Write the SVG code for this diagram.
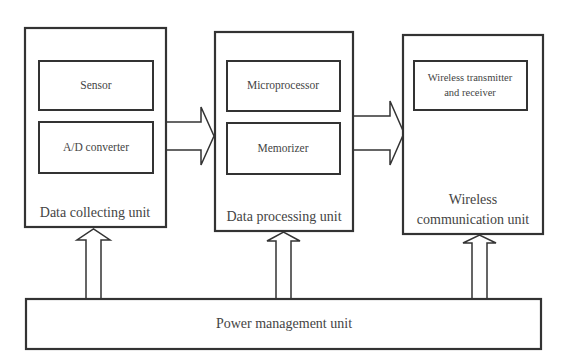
<svg xmlns="http://www.w3.org/2000/svg" width="587" height="351" viewBox="0 0 587 351">
<style>
.outer{fill:#fff;stroke:#333;stroke-width:2.2}
.inner{fill:#fff;stroke:#333;stroke-width:2}
.arr{fill:#fff;stroke:#333;stroke-width:1.5;stroke-linejoin:miter}
text{font-family:"Liberation Serif","DejaVu Serif","Times New Roman",serif;fill:#444;text-anchor:middle}
.s{font-size:11.5px}
.l{font-size:14px}
</style>
<rect width="587" height="351" fill="#fff"/>
<g id="connectors">
<path class="arr" d="M166,122 H201 V107 L214,136 L201,165 V150 H166"/>
<path class="arr" d="M353,116 H390 V101 L404,133 L390,165 V150 H353"/>
<path class="arr" d="M86,299 V240 H77 L93.5,229 L110,240 H101 V299"/>
<path class="arr" d="M276,299 V241 H267 L283.5,232 L300,241 H291 V299"/>
<path class="arr" d="M472,299 V243 H463 L479.5,235 L496,243 H487 V299"/>
</g>
<g id="data-collecting-unit">
<rect class="outer" x="25" y="28" width="141" height="199"/>
<text class="l" x="95" y="217">Data collecting unit</text>
</g>
<g id="sensor">
<rect class="inner" x="39" y="61" width="114" height="49"/>
<text class="s" x="96" y="89">Sensor</text>
</g>
<g id="ad-converter">
<rect class="inner" x="39" y="122" width="114" height="51"/>
<text class="s" x="96" y="151">A/D converter</text>
</g>
<g id="data-processing-unit">
<rect class="outer" x="215" y="32" width="138" height="199"/>
<text class="l" x="284" y="221">Data processing unit</text>
</g>
<g id="microprocessor">
<rect class="inner" x="227" y="61" width="113" height="50"/>
<text class="s" x="283" y="89">Microprocessor</text>
</g>
<g id="memorizer">
<rect class="inner" x="227" y="123" width="113" height="51"/>
<text class="s" x="283" y="152">Memorizer</text>
</g>
<g id="wireless-communication-unit">
<rect class="outer" x="403" y="35" width="140" height="199"/>
<text class="l" x="473" y="204">Wireless</text>
<text class="l" x="473" y="224">communication unit</text>
</g>
<g id="wireless-transceiver">
<rect class="inner" x="414" y="61" width="113" height="49"/>
<text class="s" style="font-size:10.5px" x="470" y="81">Wireless transmitter</text>
<text class="s" style="font-size:10.5px" x="470" y="96">and receiver</text>
</g>
<g id="power-management-unit">
<rect class="outer" x="26" y="299" width="515" height="50"/>
<text class="l" x="284" y="328">Power management unit</text>
</g>
</svg>
